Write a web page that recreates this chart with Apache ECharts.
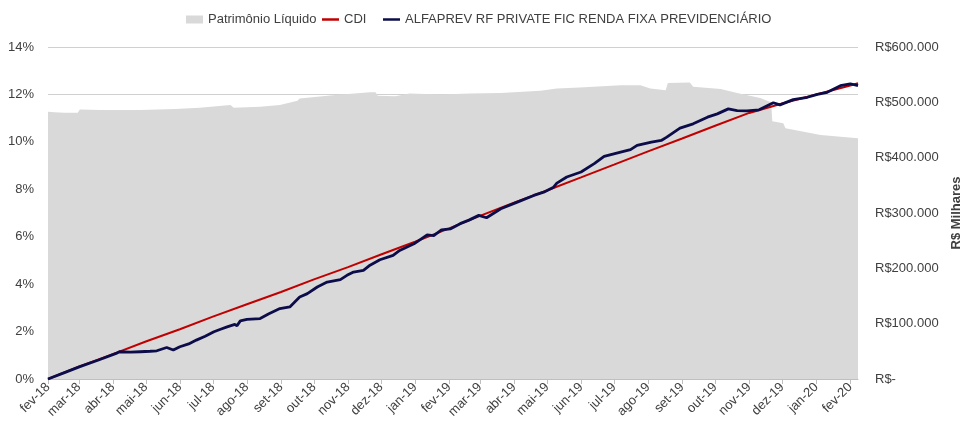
<!DOCTYPE html>
<html><head><meta charset="utf-8">
<script src="https://cdn.jsdelivr.net/npm/echarts@6/dist/echarts.min.js"></script>
<style>html,body{margin:0;padding:0;background:#fff}#c{width:960px;height:425px}</style>
</head><body><div id="c"></div>
<script>
const monthLabels = ['fev-18','mar-18','abr-18','mai-18','jun-18','jul-18','ago-18','set-18','out-18','nov-18','dez-18','jan-19','fev-19','mar-19','abr-19','mai-19','jun-19','jul-19','ago-19','set-19','out-19','nov-19','dez-19','jan-20','fev-20'];

// x values: days elapsed since 01/02/2018
const cdiDays = [0,28,59,89,120,150,181,212,242,273,303,334,365,393,424,454,485,515,546,577,607,638,668,699,730,737];
const cdiValues = [0,0.52,1.05,1.58,2.1,2.63,3.15,3.67,4.2,4.72,5.25,5.79,6.35,6.88,7.43,7.95,8.5,9.04,9.6,10.14,10.68,11.22,11.62,12.0,12.38,12.47];

const fundDays = [0,15,29,46,62,65,75,84,93,99,108,114,120,128,135,143,151,157,163,170,172,175,181,193,201,211,220,229,236,245,254,266,272,278,287,293,302,314,320,333,345,351,358,366,375,383,392,399,412,427,442,451,460,463,472,485,497,506,521,530,536,549,558,563,575,587,600,609,619,627,636,647,653,660,666,678,691,700,709,721,730,737];
const fundValues = [0,0.27,0.52,0.8,1.08,1.15,1.13,1.15,1.17,1.19,1.33,1.22,1.36,1.48,1.64,1.8,1.99,2.1,2.2,2.3,2.25,2.45,2.51,2.55,2.75,2.97,3.04,3.46,3.6,3.88,4.09,4.19,4.37,4.51,4.58,4.8,5.03,5.21,5.42,5.7,6.08,6.05,6.29,6.33,6.55,6.7,6.9,6.8,7.18,7.46,7.74,7.88,8.09,8.26,8.52,8.73,9.08,9.39,9.57,9.67,9.85,9.99,10.06,10.2,10.58,10.76,11.04,11.18,11.39,11.32,11.31,11.35,11.49,11.65,11.56,11.78,11.88,12.0,12.09,12.37,12.45,12.37];

const plDays = [0,6,15,27,29,47,84,116,138,166,169,193,211,227,229,259,293,298,300,316,329,357,384,412,448,463,484,521,539,548,562,564,584,587,612,627,648,658,659,669,671,703,737];
const plValues = [483000,482000,481000,481000,487000,486000,486000,488000,490000,495000,490000,492000,495000,503000,507000,513000,518000,518000,512000,511000,516000,514000,516000,517000,521000,525000,527000,531000,531000,525000,522000,535000,536000,528000,524000,517000,508000,500000,466000,462000,453000,441000,435000];

const DAY = 86400000;
const start = Date.UTC(2018, 1, 1);
const monthTicks = monthLabels.map((_, i) => Math.round((Date.UTC(2018, 1 + i, 1) - start) / DAY));

const pairs = (xs, ys) => xs.map((x, i) => [x, ys[i]]);
const txt = '#404040';
const font = 'Liberation Sans';
const names = ['Patrimônio Líquido', 'CDI', 'ALFAPREV RF PRIVATE FIC RENDA FIXA PREVIDENCIÁRIO'];
const colors = ['#d9d9d9', '#c00000', '#0c0c4a'];
const legendBase = { top: 8, itemWidth: 17, textStyle: { fontSize: 13, color: txt, fontFamily: font } };

const chart = echarts.init(document.getElementById('c'));
chart.setOption({
  animation: false,
  backgroundColor: '#fff',
  textStyle: { fontFamily: font },
  legend: [
    Object.assign({}, legendBase, { left: 181, itemHeight: 8, data: [{ name: names[0], icon: 'rect', itemStyle: { color: colors[0] } }] }),
    Object.assign({}, legendBase, { left: 317, itemHeight: 2.5, data: [{ name: names[1], icon: 'rect', itemStyle: { color: colors[1] } }] }),
    Object.assign({}, legendBase, { left: 378, itemHeight: 2.5, data: [{ name: names[2], icon: 'rect', itemStyle: { color: colors[2] } }] })
  ],
  grid: { left: 48, right: 102, top: 47, bottom: 46, containLabel: false, outerBoundsMode: 'none' },
  xAxis: {
    type: 'value', min: 0, max: 737,
    axisLine: { show: true, lineStyle: { color: '#bfbfbf', width: 1 } },
    axisTick: { show: true, length: 5, lineStyle: { color: '#bfbfbf' }, customValues: monthTicks },
    splitLine: { show: false },
    axisLabel: {
      rotate: 45, margin: 6, fontSize: 13, color: txt, fontFamily: font,
      customValues: monthTicks,
      formatter: v => { const i = monthTicks.indexOf(Math.round(v)); return i >= 0 ? monthLabels[i] : ''; }
    }
  },
  yAxis: [
    {
      type: 'value', min: 0, max: 14, interval: 2,
      axisLine: { show: false }, axisTick: { show: false },
      splitLine: { show: true, lineStyle: { color: '#d0d0d0', width: 1 } },
      axisLabel: { margin: 14, fontSize: 13, color: txt, fontFamily: font, formatter: '{value}%' }
    },
    {
      type: 'value', min: 0, max: 600000, interval: 100000, position: 'right',
      axisLine: { show: false }, axisTick: { show: false }, splitLine: { show: false },
      axisLabel: {
        margin: 17, fontSize: 13, color: txt, fontFamily: font,
        formatter: v => v === 0 ? 'R$-' : 'R$' + String(v).replace(/\B(?=(\d{3})+(?!\d))/g, '.')
      },
      name: 'R$ Milhares', nameLocation: 'middle', nameRotate: 90, nameGap: 86,
      nameTextStyle: { fontSize: 13, fontWeight: 'bold', color: txt, fontFamily: font }
    }
  ],
  series: [
    {
      name: names[0], type: 'line', yAxisIndex: 1, symbol: 'none',
      data: pairs(plDays, plValues),
      lineStyle: { width: 0, color: colors[0] },
      itemStyle: { color: colors[0] },
      areaStyle: { color: colors[0], opacity: 1 },
      z: 1
    },
    {
      name: names[1], type: 'line', yAxisIndex: 0, symbol: 'none',
      data: pairs(cdiDays, cdiValues),
      lineStyle: { width: 2, color: colors[1] },
      itemStyle: { color: colors[1] },
      z: 3
    },
    {
      name: names[2], type: 'line', yAxisIndex: 0, symbol: 'none',
      data: pairs(fundDays, fundValues),
      lineStyle: { width: 2.8, color: colors[2] },
      itemStyle: { color: colors[2] },
      z: 4
    }
  ]
});
</script>
</body></html>
